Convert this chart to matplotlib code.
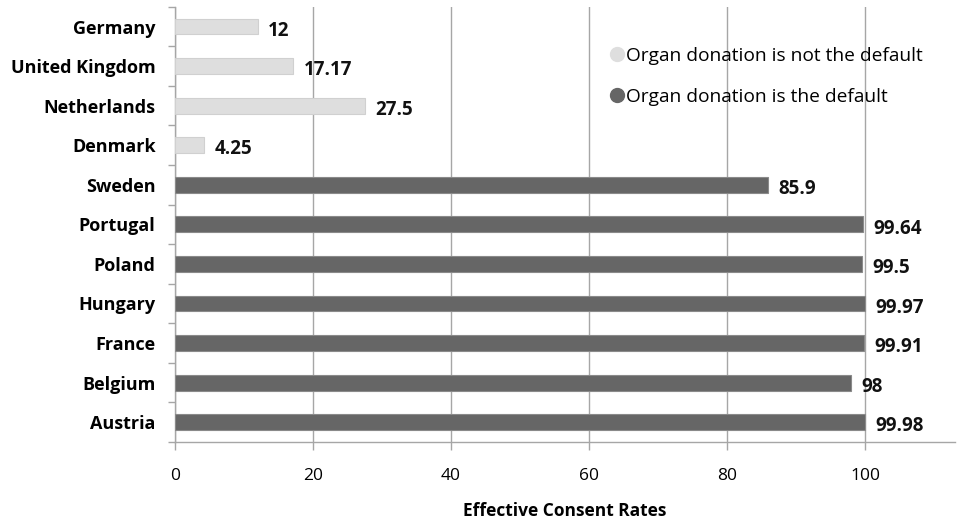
import matplotlib.pyplot as plt
from matplotlib.lines import Line2D
from matplotlib.ticker import FixedLocator

countries = ["Germany", "United Kingdom", "Netherlands", "Denmark", "Sweden",
             "Portugal", "Poland", "Hungary", "France", "Belgium", "Austria"]
rates = [12, 17.17, 27.5, 4.25, 85.9, 99.64, 99.5, 99.97, 99.91, 98, 99.98]
rate_labels = ["12", "17.17", "27.5", "4.25", "85.9", "99.64", "99.5",
               "99.97", "99.91", "98", "99.98"]
is_default = [False, False, False, False, True, True, True, True, True, True, True]

LIGHT = "#dedede"
DARK = "#666666"
GRID = "#a6a6a6"

plt.rcParams['font.family'] = ['Open Sans', 'DejaVu Sans']

fig = plt.figure(figsize=(9.59, 5.23), dpi=100)
ax = fig.add_axes([0.1825, 0.155, 0.813, 0.832])

ypos = list(range(len(countries)))
colors = [DARK if d else LIGHT for d in is_default]
edges = ["#8a8a8a" if d else "#d0d0d0" for d in is_default]
ax.barh(ypos, rates, height=0.4, color=colors, edgecolor=edges,
        linewidth=0.8, zorder=3)

for y, v, lab in zip(ypos, rates, rate_labels):
    ax.annotate(lab, (v, y), xytext=(7.5, -3), textcoords="offset points",
                ha="left", va="center", fontsize=13.5, fontweight="bold",
                color="#111111")

ax.set_ylim(len(countries) - 0.5, -0.5)
ax.set_xlim(0, 113)
ax.set_xticks([0, 20, 40, 60, 80, 100])
ax.xaxis.grid(True, color=GRID, linewidth=1.0, zorder=0)
ax.set_axisbelow(True)

# category boundaries get the tick marks, names sit between them
ax.yaxis.set_major_locator(FixedLocator([i - 0.5 for i in range(len(countries) + 1)]))
ax.yaxis.set_major_formatter(plt.NullFormatter())
ax.yaxis.set_minor_locator(FixedLocator(ypos))
ax.set_yticklabels(countries, minor=True, fontsize=13, fontweight="bold")
ax.tick_params(axis="y", which="major", length=5, color=GRID, width=1)
ax.tick_params(axis="y", which="minor", length=0, pad=14)
ax.tick_params(axis="x", length=6, color=GRID, width=1, pad=13, labelsize=12.5)

for side in ["top", "right"]:
    ax.spines[side].set_visible(False)
for side in ["left", "bottom"]:
    ax.spines[side].set_color(GRID)
    ax.spines[side].set_linewidth(1.0)

ax.set_xlabel("Effective Consent Rates", fontsize=12.5, fontweight="bold",
              labelpad=13)

handles = [
    Line2D([], [], marker="o", linestyle="none", markersize=10,
           markerfacecolor=LIGHT, markeredgecolor=LIGHT),
    Line2D([], [], marker="o", linestyle="none", markersize=10,
           markerfacecolor=DARK, markeredgecolor=DARK),
]
ax.legend(handles, ["Organ donation is not the default",
                    "Organ donation is the default"],
          loc="upper left", bbox_to_anchor=(0.55, 0.925), frameon=False,
          handlelength=0.6, handletextpad=0.15, labelspacing=1.2,
          fontsize=13.75, borderaxespad=0)

fig.savefig("out.png", dpi=100)
